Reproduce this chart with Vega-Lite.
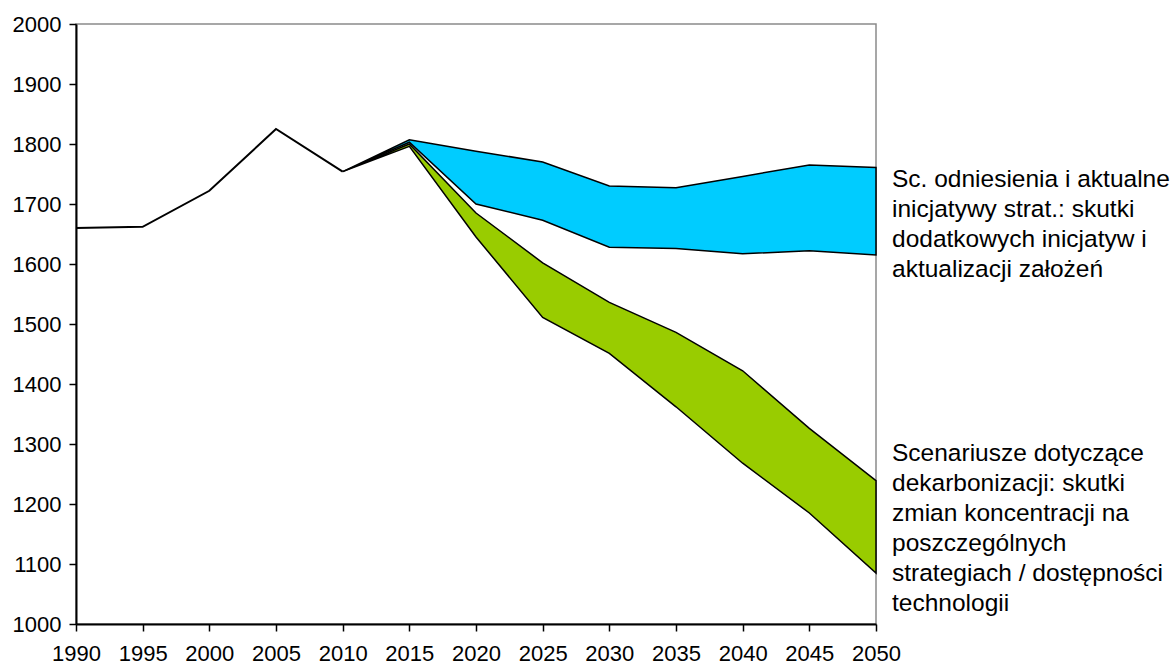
{
  "$schema": "https://vega.github.io/schema/vega-lite/v6.json",
  "width": 800,
  "height": 600,
  "autosize": {"type": "none"},
  "padding": {"left": 76, "top": 24, "right": 300, "bottom": 40},
  "background": "white",
  "config": {
    "view": {"stroke": "#8a8a8a", "strokeWidth": 1.5},
    "font": "Liberation Sans",
    "axis": {
      "grid": false,
      "title": null,
      "domainColor": "black",
      "domainWidth": 2,
      "tickColor": "black",
      "tickWidth": 1.5,
      "tickSize": 7,
      "labelFont": "Liberation Sans",
      "labelFontSize": 22,
      "labelColor": "black",
      "labelFlush": false,
      "labelOverlap": false
    }
  },
  "datasets": {
    "hist": [
      {"year": 1990, "value": 1660},
      {"year": 1995, "value": 1662},
      {"year": 2000, "value": 1722},
      {"year": 2005, "value": 1825},
      {"year": 2010, "value": 1754}
    ],
    "bands": [
      {"scenario": "ref", "year": 2010, "lo": 1754, "hi": 1754},
      {"scenario": "ref", "year": 2015, "lo": 1803, "hi": 1807},
      {"scenario": "ref", "year": 2020, "lo": 1700, "hi": 1788},
      {"scenario": "ref", "year": 2025, "lo": 1673, "hi": 1770},
      {"scenario": "ref", "year": 2030, "lo": 1628, "hi": 1730},
      {"scenario": "ref", "year": 2035, "lo": 1626, "hi": 1727},
      {"scenario": "ref", "year": 2040, "lo": 1617, "hi": 1746},
      {"scenario": "ref", "year": 2045, "lo": 1622, "hi": 1765},
      {"scenario": "ref", "year": 2050, "lo": 1615, "hi": 1761},
      {"scenario": "decarb", "year": 2010, "lo": 1754, "hi": 1754},
      {"scenario": "decarb", "year": 2015, "lo": 1796, "hi": 1800},
      {"scenario": "decarb", "year": 2020, "lo": 1645, "hi": 1685},
      {"scenario": "decarb", "year": 2025, "lo": 1511, "hi": 1602},
      {"scenario": "decarb", "year": 2030, "lo": 1451, "hi": 1536},
      {"scenario": "decarb", "year": 2035, "lo": 1362, "hi": 1486},
      {"scenario": "decarb", "year": 2040, "lo": 1268, "hi": 1422},
      {"scenario": "decarb", "year": 2045, "lo": 1185, "hi": 1326},
      {"scenario": "decarb", "year": 2050, "lo": 1085, "hi": 1239}
    ],
    "notes": [
      {"note": "Sc. odniesienia i aktualne\ninicjatywy strat.: skutki\ndodatkowych inicjatyw i\naktualizacji założeń"},
      {"note": "Scenariusze dotyczące\ndekarbonizacji: skutki\nzmian koncentracji na\nposzczególnych\nstrategiach / dostępności\ntechnologii"}
    ]
  },
  "layer": [
    {
      "data": {"name": "bands"},
      "mark": {"type": "area", "stroke": "black", "strokeWidth": 1.5, "opacity": 1, "fillOpacity": 1},
      "encoding": {
        "x": {
          "field": "year",
          "type": "quantitative",
          "scale": {"domain": [1990, 2050], "nice": false, "zero": false},
          "axis": {
            "values": [1990, 1995, 2000, 2005, 2010, 2015, 2020, 2025, 2030, 2035, 2040, 2045, 2050],
            "format": "d",
            "labelPadding": 12
          }
        },
        "y": {
          "field": "hi",
          "type": "quantitative",
          "scale": {"domain": [1000, 2000], "nice": false, "zero": false},
          "axis": {
            "values": [1000, 1100, 1200, 1300, 1400, 1500, 1600, 1700, 1800, 1900, 2000],
            "format": "d",
            "labelPadding": 8
          }
        },
        "y2": {"field": "lo"},
        "color": {
          "field": "scenario",
          "type": "nominal",
          "scale": {"domain": ["ref", "decarb"], "range": ["#00CCFF", "#99CC00"]},
          "legend": null
        }
      }
    },
    {
      "data": {"name": "hist"},
      "mark": {"type": "line", "color": "black", "strokeWidth": 2},
      "encoding": {
        "x": {"field": "year", "type": "quantitative"},
        "y": {"field": "value", "type": "quantitative"}
      }
    },
    {
      "data": {"name": "notes"},
      "transform": [{"filter": "indexof(datum.note, 'Sc. ') === 0"}],
      "mark": {
        "type": "text",
        "align": "left",
        "baseline": "alphabetic",
        "dx": 16,
        "font": "Liberation Sans",
        "fontSize": 24.5,
        "lineHeight": 30,
        "lineBreak": "\n",
        "color": "black"
      },
      "encoding": {
        "x": {"datum": 2050},
        "y": {"datum": 1729},
        "text": {"field": "note", "type": "nominal"}
      }
    },
    {
      "data": {"name": "notes"},
      "transform": [{"filter": "indexof(datum.note, 'Scenariusze') === 0"}],
      "mark": {
        "type": "text",
        "align": "left",
        "baseline": "alphabetic",
        "dx": 16,
        "font": "Liberation Sans",
        "fontSize": 24.5,
        "lineHeight": 30,
        "lineBreak": "\n",
        "color": "black"
      },
      "encoding": {
        "x": {"datum": 2050},
        "y": {"datum": 1272},
        "text": {"field": "note", "type": "nominal"}
      }
    }
  ]
}
